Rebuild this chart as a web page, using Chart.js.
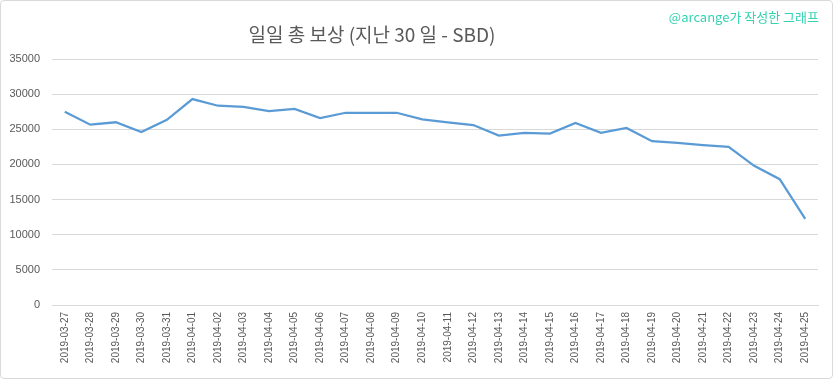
<!DOCTYPE html>
<html>
<head>
<meta charset="utf-8">
<script src="https://cdn.jsdelivr.net/npm/chart.js@4/dist/chart.umd.min.js"></script>
<style>
  html, body { margin: 0; padding: 0; background: #fff; }
  #wrap { position: relative; width: 833px; height: 379px; overflow: hidden; }
  #c { position: absolute; left: 0; top: 0; }
  #frame { position: absolute; left: 0; top: 0; width: 833px; height: 379px; box-sizing: border-box;
           border: 1px solid #d9d9d9; border-radius: 4px; pointer-events: none; }
  #title { position: absolute; left: 0; width: 744px; top: 22px; text-align: center;
           font-family: "Noto Sans CJK KR", "Open Sans", sans-serif; font-size: 19px; color: #595959; line-height: 24px; }
  #mark { position: absolute; right: 14px; top: 8px; font-family: "Noto Sans CJK KR", "DejaVu Sans", sans-serif;
          font-size: 13px; color: #33d3b2; line-height: 18px; }
</style>
</head>
<body>
<div id="wrap">
  <canvas id="c" width="833" height="379"></canvas>
  <div id="title">일일 총 보상 (지난 30 일 - SBD)</div>
  <div id="mark">@arcange가 작성한 그래프</div>
  <div id="frame"></div>
</div>
<script>
const categories = [
  "2019-03-27","2019-03-28","2019-03-29","2019-03-30","2019-03-31",
  "2019-04-01","2019-04-02","2019-04-03","2019-04-04","2019-04-05",
  "2019-04-06","2019-04-07","2019-04-08","2019-04-09","2019-04-10",
  "2019-04-11","2019-04-12","2019-04-13","2019-04-14","2019-04-15",
  "2019-04-16","2019-04-17","2019-04-18","2019-04-19","2019-04-20",
  "2019-04-21","2019-04-22","2019-04-23","2019-04-24","2019-04-25"
];
const rewardsSBD = [
  27500, 25650, 26000, 24600, 26350,
  29300, 28350, 28200, 27600, 27900,
  26600, 27350, 27350, 27350, 26400,
  26000, 25600, 24100, 24500, 24400,
  25900, 24500, 25200, 23300, 23050,
  22750, 22500, 19800, 17900, 12250
];
const yTicks = [0, 5000, 10000, 15000, 20000, 25000, 30000, 35000];

new Chart(document.getElementById('c'), {
  type: 'line',
  data: {
    labels: categories,
    datasets: [{
      data: rewardsSBD,
      borderColor: '#5b9bd5',
      borderWidth: 2.25,
      pointRadius: 0,
      tension: 0,
      fill: false
    }]
  },
  options: {
    responsive: false,
    animation: false,
    events: [],
    layout: { padding: { top: 59, right: 15, bottom: 8, left: 0 } },
    plugins: { legend: { display: false }, title: { display: false }, tooltip: { enabled: false } },
    scales: {
      x: {
        type: 'category',
        offset: true,
        grid: { display: false, drawTicks: false },
        border: { display: true, color: '#d9d9d9', width: 1 },
        ticks: {
          autoSkip: false, maxRotation: 90, minRotation: 90, padding: 7,
          color: '#595959', font: { family: 'Liberation Sans', size: 10 }
        },
        afterFit: (s) => { s.height = 66; }
      },
      y: {
        min: 0, max: 35000,
        afterBuildTicks: (s) => { s.ticks = yTicks.map(v => ({ value: v })); },
        grid: { color: '#d9d9d9', lineWidth: 1, drawTicks: false },
        border: { display: false },
        ticks: {
          padding: 12, color: '#595959', font: { family: 'Liberation Sans', size: 11 },
          callback: (v) => String(v)
        },
        afterFit: (s) => { s.width = 52; }
      }
    }
  }
});
</script>
</body>
</html>
